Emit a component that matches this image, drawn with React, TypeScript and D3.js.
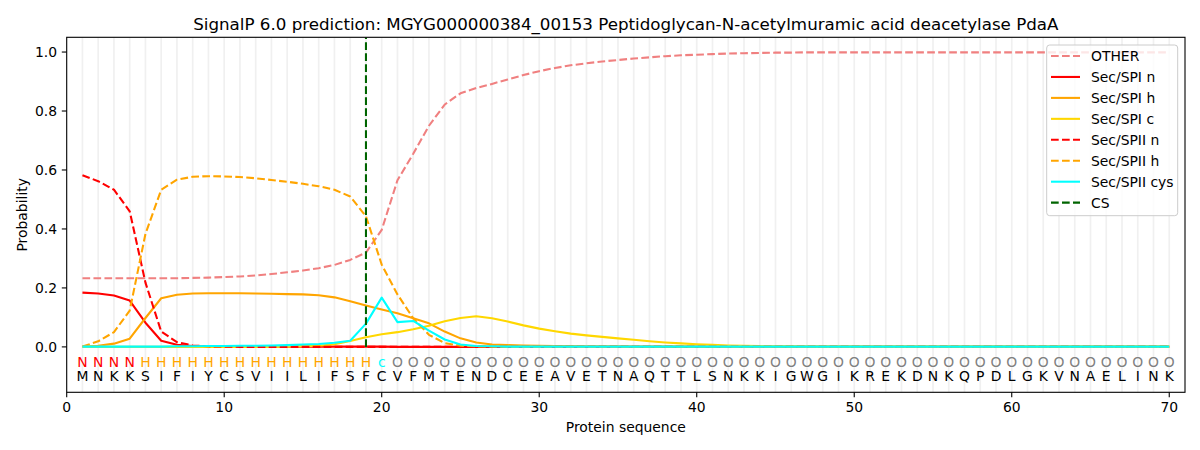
import React from "react";
import * as d3 from "d3";

const TITLE = "SignalP 6.0 prediction: MGYG000000384_00153 Peptidoglycan-N-acetylmuramic acid deacetylase PdaA";
const SEQUENCE = "MNKKSIFIYCSVIILIFSFCVFMTENDCEEAVETNAQTTLSNKKIGWGIKREKDNKQPDLGKVNAELINK".split("");
const LABELS = "NNNNHHHHHHHHHHHHHHHcOOOOOOOOOOOOOOOOOOOOOOOOOOOOOOOOOOOOOOOOOOOOOOOOOO".split("");
const CS_POS = 19;
const X_TICKS = [0, 10, 20, 30, 40, 50, 60, 70];
const Y_TICKS = [0, 0.2, 0.4, 0.6, 0.8, 1.0];

const OTHER = [0.233,0.233,0.233,0.233,0.233,0.233,0.233,0.234,0.235,0.237,
  0.239,0.242,0.247,0.253,0.259,0.267,0.278,0.295,0.32,0.397,
  0.565,0.655,0.75,0.822,0.86,0.878,0.892,0.907,0.922,0.935,
  0.946,0.955,0.962,0.968,0.973,0.978,0.982,0.986,0.989,0.991,
  0.993,0.995,0.996,0.997,0.998,0.998,0.999,0.999,0.999,0.999,
  0.999,0.999,0.999,0.999,0.999,0.999,0.999,0.999,0.999,0.999,
  0.999,0.999,0.999,0.999,0.999,0.999,0.999,0.999,0.999,0.999];
const SPI_N = [0.184,0.181,0.174,0.157,0.082,0.021,0.007,0.003,0.002,0.001,
  0.001,0.001,0.001,0.001,0.001,0.001,0.001,0.001,0.001,0.001,
  0,0,0,0,0,0,0,0,0,0,0,0,0,0,0,0,0,0,0,0,
  0,0,0,0,0,0,0,0,0,0,0,0,0,0,0,0,0,0,0,0,0,0,0,0,0,0,0,0,0,0];
const SPI_H = [0.001,0.004,0.011,0.028,0.098,0.165,0.177,0.181,0.182,0.182,
  0.182,0.181,0.180,0.179,0.178,0.175,0.168,0.155,0.14,0.127,
  0.114,0.097,0.08,0.052,0.029,0.015,0.008,0.006,0.005,0.004,
  0.003,0.003,0.002,0.002,0.002,0.001,0.001,0.001,0.001,0.001,
  0.001,0.001,0.001,0.001,0.001,0.001,0.001,0.001,0.001,0.001,
  0.001,0.001,0.001,0.001,0.001,0.001,0.001,0.001,0.001,0.001,
  0.001,0.001,0.001,0.001,0.001,0.001,0.001,0.001,0.001,0.001];
const SPI_C = [0,0,0,0,0,0,0,0,0,0,
  0,0,0,0.001,0.002,0.004,0.009,0.02,0.033,0.043,
  0.05,0.06,0.072,0.087,0.098,0.104,0.097,0.086,0.073,0.062,
  0.053,0.045,0.039,0.034,0.029,0.024,0.019,0.015,0.012,0.009,
  0.007,0.005,0.004,0.003,0.002,0.002,0.001,0.001,0.001,0.001,
  0.001,0.001,0.001,0.001,0.001,0.001,0.001,0.001,0.001,0.001,
  0.001,0.001,0.001,0.001,0.001,0.001,0.001,0.001,0.001,0.001];
const SPII_N = [0.582,0.562,0.533,0.46,0.218,0.052,0.016,0.005,0.002,0.001,
  0,0,0,0,0,0,0,0,0,0,0,0,0,0,0,0,0,0,0,0,
  0,0,0,0,0,0,0,0,0,0,0,0,0,0,0,0,0,0,0,0,
  0,0,0,0,0,0,0,0,0,0,0,0,0,0,0,0,0,0,0,0];
const SPII_H = [0.001,0.019,0.05,0.123,0.383,0.533,0.567,0.577,0.579,0.578,
  0.576,0.572,0.566,0.56,0.553,0.545,0.533,0.51,0.443,0.279,
  0.178,0.097,0.041,0.013,0.004,0.002,0.001,0,0,0,
  0,0,0,0,0,0,0,0,0,0,0,0,0,0,0,0,0,0,0,0,
  0,0,0,0,0,0,0,0,0,0,0,0,0,0,0,0,0,0,0,0];
const SPII_CYS = [0.001,0.001,0.001,0.001,0.001,0.001,0.002,0.002,0.003,0.003,
  0.004,0.004,0.005,0.006,0.008,0.01,0.014,0.021,0.079,0.167,
  0.084,0.088,0.055,0.025,0.008,0.003,0.002,0.001,0.001,0.001,
  0.001,0.001,0.001,0.001,0.001,0.001,0.001,0.001,0.001,0.001,
  0.001,0.001,0.001,0.001,0.001,0.001,0.001,0.001,0.001,0.001,
  0.001,0.001,0.001,0.001,0.001,0.001,0.001,0.001,0.001,0.001,
  0.001,0.001,0.001,0.001,0.001,0.001,0.001,0.001,0.001,0.001];

const SERIES = [
  { name: "OTHER", values: OTHER, color: "#f08080", dashed: true },
  { name: "Sec/SPI n", values: SPI_N, color: "#ff0000", dashed: false },
  { name: "Sec/SPI h", values: SPI_H, color: "#ffa500", dashed: false },
  { name: "Sec/SPI c", values: SPI_C, color: "#ffd700", dashed: false },
  { name: "Sec/SPII n", values: SPII_N, color: "#ff0000", dashed: true },
  { name: "Sec/SPII h", values: SPII_H, color: "#ffa500", dashed: true },
  { name: "Sec/SPII cys", values: SPII_CYS, color: "#00ffff", dashed: false },
];

const LABEL_COLORS: Record<string, string> = { N: "#ff0000", H: "#ffa500", c: "#00ffff", O: "#808080" };

const L = 66.7, R = 1185, T = 37.3, B = 392.3;
const FONT = "DejaVu Sans, sans-serif";
const LW = 2.08;
const DASH = "7.7,3.3";

export default function App() {
  const x = d3.scaleLinear().domain([0, 71]).range([L, R]);
  const y = d3.scaleLinear().domain([-0.154, 1.05]).range([B, T]);
  const positions = SEQUENCE.map((_, i) => i + 1);
  const line = d3.line<number>().x((_, i) => x(i + 1)).y((d) => y(d));
  const legendItems = [...SERIES.map((s) => ({ name: s.name, color: s.color, dashed: s.dashed })), { name: "CS", color: "#006400", dashed: true }];
  const lx = 1046.7, ly = 45, lw = 131, lh = 170.7;

  return (
    <svg width={1200} height={450} style={{ position: "absolute", left: 0, top: 0, background: "#fff" }} fontFamily={FONT}>
      <rect x={0} y={0} width={1200} height={450} fill="#fff" />
      <defs>
        <clipPath id="plot"><rect x={L} y={T} width={R - L} height={B - T} /></clipPath>
      </defs>
      {positions.map((p) => (
        <line key={"g" + p} x1={x(p)} x2={x(p)} y1={T} y2={B} stroke="#f0f0f0" strokeWidth={1.7} />
      ))}
      <g clipPath="url(#plot)">
        {SERIES.map((s) => (
          <path key={s.name} d={line(s.values) || ""} fill="none" stroke={s.color} strokeWidth={LW}
            strokeDasharray={s.dashed ? DASH : undefined} strokeLinejoin="round" />
        ))}
        <line x1={x(CS_POS)} x2={x(CS_POS)} y1={y(0)} y2={T} stroke="#006400" strokeWidth={LW} strokeDasharray={DASH} />
      </g>
      {LABELS.map((lab, i) => (
        <text key={"l" + i} x={x(i + 1)} y={y(-0.05)} textAnchor="middle" dominantBaseline="central"
          fontSize={13.9} fill={LABEL_COLORS[lab]}>{lab}</text>
      ))}
      {SEQUENCE.map((aa, i) => (
        <text key={"s" + i} x={x(i + 1)} y={y(-0.1)} textAnchor="middle" dominantBaseline="central"
          fontSize={13.9} fill="#000">{aa}</text>
      ))}
      <rect x={L} y={T} width={R - L} height={B - T} fill="none" stroke="#000" strokeWidth={1.1} />
      {X_TICKS.map((t) => (
        <g key={"xt" + t}>
          <line x1={x(t)} x2={x(t)} y1={B} y2={B + 4.9} stroke="#000" strokeWidth={1.1} />
          <text x={x(t)} y={B + 9.7} textAnchor="middle" dominantBaseline="hanging" fontSize={13.9} fill="#000">{t}</text>
        </g>
      ))}
      {Y_TICKS.map((t) => (
        <g key={"yt" + t}>
          <line x1={L - 4.9} x2={L} y1={y(t)} y2={y(t)} stroke="#000" strokeWidth={1.1} />
          <text x={L - 9.7} y={y(t)} textAnchor="end" dominantBaseline="central" fontSize={13.9} fill="#000">{t.toFixed(1)}</text>
        </g>
      ))}
      <text x={(L + R) / 2} y={29.5} textAnchor="middle" fontSize={16.7} fill="#000">{TITLE}</text>
      <text x={(L + R) / 2} y={432} textAnchor="middle" fontSize={13.9} fill="#000">Protein sequence</text>
      <text transform={`translate(27,${(T + B) / 2}) rotate(-90)`} textAnchor="middle" fontSize={13.9} fill="#000">Probability</text>
      <rect x={lx} y={ly} width={lw} height={lh} rx={3} fill="#fff" fillOpacity={0.8} stroke="#cccccc" strokeWidth={1} />
      {legendItems.map((it, i) => {
        const cy = 56 + i * 20.95;
        return (
          <g key={"lg" + i}>
            <line x1={1051} x2={1080} y1={cy} y2={cy} stroke={it.color} strokeWidth={LW} strokeDasharray={it.dashed ? DASH : undefined} />
            <text x={1091} y={cy} dominantBaseline="central" fontSize={13.9} fill="#000">{it.name}</text>
          </g>
        );
      })}
    </svg>
  );
}
